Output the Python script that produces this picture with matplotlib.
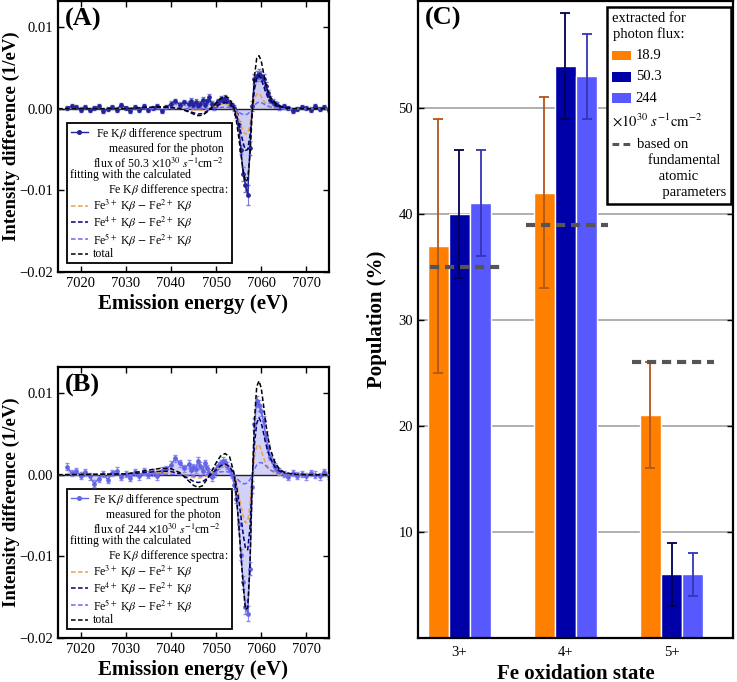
import numpy as np
import matplotlib
matplotlib.use("Agg")
import matplotlib.pyplot as plt
from matplotlib.lines import Line2D
from matplotlib.patches import Rectangle
from matplotlib.offsetbox import AnchoredOffsetbox, VPacker, HPacker, TextArea, DrawingArea

plt.rcParams["font.family"] = ["Liberation Serif", "DejaVu Serif"]
plt.rcParams["mathtext.fontset"] = "stix"

# ---- spectra (values in units of 1e-3 1/eV) ----
meas_energy = [7017, 7018, 7019, 7020, 7021, 7022, 7023, 7024, 7025, 7026, 7027, 7028, 7029, 7030,
               7031, 7032, 7033, 7034, 7035, 7036, 7037, 7038, 7039, 7040, 7041, 7042, 7043,
               7044, 7044.5, 7045, 7045.5, 7046, 7046.5, 7047, 7047.5, 7048, 7048.5, 7049, 7049.5,
               7050, 7050.5, 7051, 7051.5, 7052, 7052.5, 7053, 7053.5, 7054, 7054.5, 7055, 7055.5,
               7056, 7056.5, 7057, 7057.5, 7058, 7058.5, 7059, 7059.5, 7060, 7060.5, 7061, 7061.5,
               7062, 7062.5, 7063, 7063.5, 7064,
               7065, 7066, 7067, 7068, 7069, 7070, 7071, 7072, 7073, 7074, 7075]

meas_a = [0.1, 0.3, 0.2, -0.1, 0.2, -0.2, 0.1, 0.3, -0.3, 0.0, 0.2, -0.1, 0.5, 0.1,
          -0.3, 0.2, -0.1, 0.3, -0.2, 0.1, 0.3, -0.3, 0.2, 0.6, 0.9, 0.5, 0.8,
          0.6, 1.0, 0.5, 0.8, 0.3, 0.6, 1.1, 0.4, 0.9, 1.4, 0.6, 0.2,
          0.5, 0.9, 1.2, 1.0, 1.3, 0.9, 0.6, 0.4, 0.1, -0.7, -2.0, -5.0,
          -8.0, -9.3, -10.6, -4.8, 0.3, 3.6, 4.0, 4.3, 4.0, 3.7, 2.8, 1.9,
          1.1, 0.8, 0.6, 0.5, 0.2,
          0.3, 0.1, -0.3, 0.0, 0.2, 0.1, -0.1, 0.3, 0.0, 0.2, -0.1]
err_a = [0.25, 0.25, 0.25, 0.25, 0.25, 0.25, 0.25, 0.25, 0.25, 0.25, 0.25, 0.25, 0.25, 0.25,
         0.25, 0.25, 0.25, 0.25, 0.25, 0.25, 0.25, 0.25, 0.25, 0.3, 0.3, 0.3, 0.3,
         0.35, 0.35, 0.35, 0.35, 0.35, 0.35, 0.35, 0.35, 0.35, 0.35, 0.35, 0.35,
         0.35, 0.35, 0.35, 0.35, 0.35, 0.35, 0.35, 0.35, 0.4, 0.4, 0.5, 0.6,
         0.8, 0.9, 1.2, 0.9, 0.6, 0.6, 0.6, 0.6, 0.6, 0.5, 0.5, 0.4,
         0.4, 0.35, 0.35, 0.3, 0.3,
         0.25, 0.25, 0.25, 0.25, 0.25, 0.25, 0.25, 0.25, 0.25, 0.25, 0.25]

meas_b = [1.0, 0.2, 0.4, -0.1, 0.3, -0.2, -1.1, -0.5, 0.1, -0.6, 0.2, 0.5, -0.3, 0.1,
          -0.4, 0.3, -0.2, 0.4, 0.0, 0.3, -0.2, 0.5, 0.7, 1.2, 2.0, 1.4, 0.8,
          1.3, 0.6, 0.9, 0.7, 1.7, 1.1, 0.5, 1.4, 0.8, 0.2, -0.3, 0.2,
          0.7, 1.1, 1.4, 1.7, 1.5, 1.1, 0.6, 0.0, -1.2, -3.0, -6.0, -9.8,
          -13.2, -16.2, -17.0, -11.5, -1.5, 6.2, 9.0, 8.5, 7.8, 6.6, 4.8, 3.3,
          2.2, 1.5, 1.0, 0.6, 0.4,
          0.1, -0.3, 0.2, -0.1, 0.1, -0.2, 0.2, 0.0, -0.2, 0.3, -0.1]
err_b = [0.4, 0.4, 0.4, 0.4, 0.4, 0.4, 0.4, 0.4, 0.4, 0.4, 0.4, 0.4, 0.4, 0.4,
         0.4, 0.4, 0.4, 0.4, 0.4, 0.4, 0.4, 0.4, 0.4, 0.45, 0.45, 0.45, 0.45,
         0.45, 0.45, 0.45, 0.45, 0.45, 0.45, 0.45, 0.45, 0.45, 0.45, 0.45, 0.45,
         0.45, 0.45, 0.45, 0.45, 0.45, 0.45, 0.45, 0.45, 0.5, 0.5, 0.6, 0.7,
         0.8, 0.9, 0.9, 0.8, 0.7, 0.7, 0.7, 0.7, 0.6, 0.6, 0.5, 0.5,
         0.45, 0.45, 0.4, 0.4, 0.4,
         0.4, 0.4, 0.4, 0.4, 0.4, 0.4, 0.4, 0.4, 0.4, 0.4, 0.4]

fit_energy = [7015, 7030, 7033, 7036, 7038, 7040, 7042, 7044, 7045, 7046,
              7047, 7048, 7049, 7050, 7051, 7052, 7053, 7054, 7054.5, 7055,
              7055.5, 7056, 7056.5, 7057, 7057.5, 7058, 7058.5, 7059, 7059.5, 7060,
              7060.5, 7061, 7061.5, 7062, 7063, 7064, 7065, 7067, 7070, 7075]

fe3_a = [0, 0, 0.05, 0.1, 0.1, 0.05, 0, -0.1, -0.15, -0.2,
         -0.2, -0.1, 0.1, 0.3, 0.5, 0.6, 0.5, 0.0, -0.5, -1.2,
         -2.0, -2.7, -3.1, -3.0, -2.0, -0.2, 1.2, 1.8, 1.9, 1.5,
         1.0, 0.6, 0.4, 0.25, 0.1, 0.05, 0, 0, 0, 0]
fe4_a = [0, 0, 0.05, 0.1, 0.15, 0.1, 0, -0.3, -0.5, -0.65,
         -0.6, -0.3, 0.0, 0.3, 0.6, 0.75, 0.6, 0.0, -0.8, -1.8,
         -3.0, -4.2, -5.1, -5.0, -3.3, -0.3, 2.4, 3.8, 4.1, 3.6,
         2.8, 2.0, 1.4, 1.0, 0.5, 0.25, 0.1, 0.02, 0, 0]
fe5_a = [0, 0, 0, 0, 0, 0, 0, 0, 0, 0,
         0, 0, 0.05, 0.1, 0.15, 0.2, 0.15, 0.0, -0.2, -0.4,
         -0.6, -0.7, -0.75, -0.65, -0.4, 0.0, 0.4, 0.7, 0.8, 0.75,
         0.6, 0.45, 0.3, 0.2, 0.1, 0.05, 0.02, 0, 0, 0]
total_a = [0, 0, 0.1, 0.2, 0.25, 0.15, 0, -0.4, -0.65, -0.85,
           -0.8, -0.4, 0.15, 0.7, 1.25, 1.55, 1.25, 0.0, -1.5, -3.4,
           -5.6, -7.6, -8.95, -8.65, -5.7, -0.5, 4.0, 6.2, 6.5, 5.85,
           4.4, 3.05, 2.1, 1.45, 0.7, 0.35, 0.12, 0.02, 0, 0]

fe3_b = [0, 0.05, 0.15, 0.25, 0.3, 0.3, 0.15, -0.2, -0.35, -0.4,
         -0.35, -0.1, 0.2, 0.6, 0.95, 1.15, 0.95, 0.1, -0.9, -2.3,
         -3.8, -5.1, -5.9, -5.7, -3.8, -0.4, 2.3, 3.5, 3.7, 3.0,
         2.1, 1.4, 0.9, 0.55, 0.25, 0.1, 0.05, 0, 0, 0]
fe4_b = [0, 0.05, 0.2, 0.35, 0.45, 0.4, 0.1, -0.5, -0.8, -0.95,
         -0.85, -0.45, 0.1, 0.6, 1.1, 1.3, 1.0, 0.0, -1.3, -3.0,
         -5.1, -7.3, -9.0, -9.2, -6.5, -0.6, 3.8, 6.3, 7.0, 6.4,
         5.1, 3.8, 2.8, 2.0, 1.0, 0.45, 0.2, 0.05, 0, 0]
fe5_b = [0, 0, 0.02, 0.05, 0.05, 0.05, 0, -0.1, -0.15, -0.2,
         -0.15, 0, 0.1, 0.25, 0.35, 0.4, 0.3, 0.0, -0.35, -0.7,
         -0.95, -1.1, -1.1, -0.95, -0.6, 0.0, 0.7, 1.2, 1.45, 1.5,
         1.35, 1.1, 0.85, 0.6, 0.3, 0.15, 0.07, 0.02, 0, 0]
total_b = [0, 0.1, 0.37, 0.65, 0.8, 0.75, 0.25, -0.8, -1.3, -1.55,
           -1.35, -0.55, 0.4, 1.45, 2.3, 2.6, 2.2, 0.1, -2.55, -6.0,
           -9.85, -13.5, -16.5, -16.3, -10.9, -1.0, 6.8, 10.8, 11.5, 10.6,
           8.55, 6.3, 4.55, 3.15, 1.55, 0.7, 0.32, 0.07, 0, 0]

# ---- populations (%) ----
states = ["3+", "4+", "5+"]
flux_labels = ["18.9", "50.3", "244"]
pop_189 = [37, 42, 21]
low_189 = [25, 33, 16]
high_189 = [49, 51, 26]
pop_503 = [40, 54, 6]
low_503 = [34, 49, 3]
high_503 = [46, 59, 9]
pop_244 = [41, 53, 6]
low_244 = [36, 49, 4]
high_244 = [46, 57, 8]
atomic = [35, 39, 26]

ORANGE = "#ff7f00"
NAVY = "#0000a8"
BLUE = "#5858ff"
FIT_COLORS = ["#f0a048", "#00007a", "#6a6af0", "black"]
DASH = (0, (3.0, 1.6))
FS_SMALL = 8.5


def handle(kind, color):
    da = DrawingArea(13, 8, 0, 0)
    if kind == "marker":
        da.add_artist(Line2D([0.5, 6.5, 12.5], [4, 4, 4], color=color, lw=1,
                             marker="o", ms=2.6, markevery=[1]))
    elif kind == "dash":
        da.add_artist(Line2D([0.5, 12.5], [4, 4], color=color, lw=1.1, ls=DASH))
    return da


def spectrum_panel(ax, tag, meas, err, fits, flux, meas_color, err_color, fill_color):
    m = np.array(meas) * 1e-3
    ax.fill_between(meas_energy, m, 0, color=fill_color, lw=0, zorder=1)
    ax.axhline(0, color="#222222", lw=1.0, zorder=1.5)
    ax.errorbar(meas_energy, m, yerr=np.array(err) * 1e-3, fmt="-o", ms=2.4, lw=1.0,
                color=meas_color, ecolor=err_color, elinewidth=0.8, capsize=1.2, zorder=2)
    for vals, c in zip(fits, FIT_COLORS):
        ax.plot(fit_energy, np.array(vals) * 1e-3, color=c, lw=1.1, ls=DASH, zorder=3)

    ax.set_xlim(7015, 7075)
    ax.set_ylim(-0.02, 0.0132)
    ax.set_xticks([7020, 7030, 7040, 7050, 7060, 7070])
    ax.set_yticks([-0.02, -0.01, 0.0, 0.01])
    ax.set_yticklabels(["\u22120.02", "\u22120.01", "0.00", "0.01"])
    ax.tick_params(direction="in", length=4, width=1, top=True, right=True, labelsize=10.5)
    for s in ax.spines.values():
        s.set_linewidth(1.6)
    ax.set_xlabel("Emission energy (eV)", fontsize=15, fontweight="bold", labelpad=3)
    ax.set_ylabel("Intensity difference (1/eV)", fontsize=13.5, fontweight="bold")
    ax.yaxis.set_label_coords(-0.142, 0.5)
    ax.text(0.025, 0.975, tag, transform=ax.transAxes, fontsize=19, fontweight="bold", va="top")

    rows = [
        HPacker(children=[handle("marker", meas_color),
                          TextArea("Fe K$\\beta$ difference spectrum\n"
                                   "measured for the photon\n"
                                   "flux of " + flux + " $\\times$10$^{30}$ $s^{-1}$cm$^{-2}$",
                                   textprops=dict(fontsize=FS_SMALL, multialignment="right",
                                                  linespacing=1.05))],
                align="top", pad=0, sep=3),
        TextArea("fitting with the calculated\n"
                 "             Fe K$\\beta$ difference spectra:",
                 textprops=dict(fontsize=FS_SMALL, linespacing=1.05)),
    ]
    names = ["Fe$^{3+}$ K$\\beta$ $-$ Fe$^{2+}$ K$\\beta$",
             "Fe$^{4+}$ K$\\beta$ $-$ Fe$^{2+}$ K$\\beta$",
             "Fe$^{5+}$ K$\\beta$ $-$ Fe$^{2+}$ K$\\beta$",
             "total"]
    for name, c in zip(names, FIT_COLORS):
        rows.append(HPacker(children=[handle("dash", c),
                                      TextArea(name, textprops=dict(fontsize=FS_SMALL))],
                            align="center", pad=0, sep=3))
    box = AnchoredOffsetbox(loc="lower left", child=VPacker(children=rows, align="left", pad=0, sep=0),
                            pad=0.25, borderpad=0, frameon=True,
                            bbox_to_anchor=(0.033, 0.033), bbox_transform=ax.transAxes)
    box.patch.set_boxstyle("square", pad=0)
    box.patch.set_edgecolor("black")
    box.patch.set_linewidth(1.3)
    box.set_zorder(1.8)
    ax.add_artist(box)


fig = plt.figure(figsize=(7.37, 6.82), dpi=100)
ax_a = fig.add_axes([0.0787, 0.6012, 0.3677, 0.3974])
ax_b = fig.add_axes([0.0787, 0.0645, 0.3677, 0.3974])
ax_c = fig.add_axes([0.5672, 0.0645, 0.4274, 0.934])

spectrum_panel(ax_a, "(A)", meas_a, err_a, [fe3_a, fe4_a, fe5_a, total_a], "50.3",
               "#23239a", "#7a7ad8", "#cdcdf2")
spectrum_panel(ax_b, "(B)", meas_b, err_b, [fe3_b, fe4_b, fe5_b, total_b], "244",
               "#6464e6", "#8c8cee", "#d2d2f8")

# ---- panel C ----
x = np.arange(len(states))
width = 0.2
series = [(pop_189, low_189, high_189, ORANGE, "#b0561a"),
          (pop_503, low_503, high_503, NAVY, "#000050"),
          (pop_244, low_244, high_244, BLUE, "#3535b8")]
for i, (vals, lo, hi, c, ec) in enumerate(series):
    xs = x + (i - 1) * width
    v = np.array(vals)
    yerr = [v - np.array(lo), np.array(hi) - v]
    ax_c.bar(xs, v, width, color=c, edgecolor="white", linewidth=1.0, zorder=2)
    ax_c.errorbar(xs, v, yerr=yerr, fmt="none", ecolor=ec, elinewidth=1.3, capsize=3.5,
                  capthick=1.3, zorder=3)

dash_lo = [-0.28, -0.37, -0.37]
dash_hi = [0.41, 0.40, 0.40]
ax_c.hlines(atomic, x + np.array(dash_lo), x + np.array(dash_hi), colors="#555555",
            lw=3, linestyles=(0, (2.2, 1.4)), zorder=4)

ax_c.set_xlim(-0.39, 2.58)
ax_c.set_ylim(0, 60.1)
ax_c.set_yticks([10, 20, 30, 40, 50])
ax_c.set_xticks(x)
ax_c.set_xticklabels(states)
ax_c.yaxis.grid(True, color="#9a9a9a", lw=1.1, zorder=0)
ax_c.set_axisbelow(True)
ax_c.tick_params(axis="y", direction="in", length=4, width=1, right=True, labelsize=10.5)
ax_c.tick_params(axis="x", direction="in", length=0, labelsize=10.5, pad=6)
for s in ax_c.spines.values():
    s.set_linewidth(1.6)
ax_c.set_xlabel("Fe oxidation state", fontsize=15, fontweight="bold", labelpad=3)
ax_c.set_ylabel("Population (%)", fontsize=15, fontweight="bold", labelpad=8)
ax_c.text(0.022, 0.99, "(C)", transform=ax_c.transAxes, fontsize=19, fontweight="bold", va="top")


def swatch(color):
    da = DrawingArea(14, 7, 0, 0)
    da.add_artist(Rectangle((0, 0), 14, 7, facecolor=color, edgecolor="none"))
    return da


FS_C = 10.5
rows_c = [TextArea("extracted for\nphoton flux:",
                   textprops=dict(fontsize=FS_C, multialignment="center", linespacing=1.15))]
for lab, c in zip(flux_labels, [ORANGE, NAVY, BLUE]):
    rows_c.append(HPacker(children=[swatch(c), TextArea(lab, textprops=dict(fontsize=FS_C))],
                          align="center", pad=0, sep=3))
rows_c.append(TextArea("$\\times10^{30}$ $s^{-1}\\mathrm{cm}^{-2}$", textprops=dict(fontsize=FS_C)))
dash_da = DrawingArea(14, 8, 0, 0)
dash_da.add_artist(Line2D([0, 14], [4, 4], color="#555555", lw=2.2, ls=(0, (2.2, 1.4))))
rows_c.append(HPacker(children=[dash_da,
                                TextArea("based on\n   fundamental\n      atomic\n       parameters",
                                         textprops=dict(fontsize=FS_C, linespacing=1.3))],
                      align="top", pad=0, sep=4))
box_c = AnchoredOffsetbox(loc="upper right", child=VPacker(children=rows_c, align="left", pad=0, sep=6),
                          pad=0.35, borderpad=0, frameon=True,
                          bbox_to_anchor=(0.994, 0.99), bbox_transform=ax_c.transAxes)
box_c.patch.set_boxstyle("square", pad=0)
box_c.patch.set_edgecolor("black")
box_c.patch.set_linewidth(1.8)
ax_c.add_artist(box_c)

fig.savefig("out.png", dpi=100)
